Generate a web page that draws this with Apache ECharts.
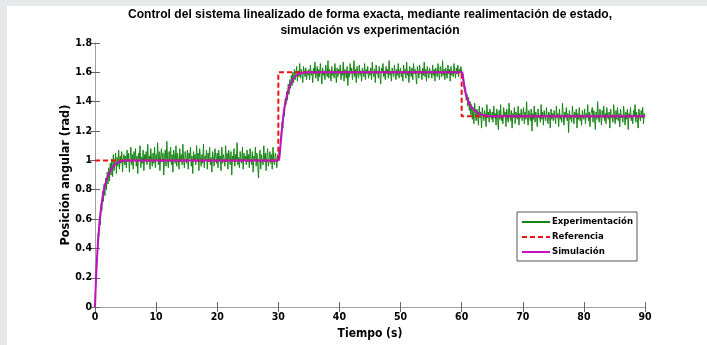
<!DOCTYPE html>
<html><head><meta charset="utf-8">
<script src="https://cdn.jsdelivr.net/npm/echarts@6/dist/echarts.min.js"></script>
<style>html,body{margin:0;padding:0;background:#fff}#c{width:707px;height:345px}</style>
</head><body><div id="c"></div>
<script>
var titleLines = ['Control del sistema linealizado de forma exacta, mediante realimentación de estado,', 'simulación vs experimentación'];
var xName = 'Tiempo (s)';
var yName = 'Posición angular (rad)';
var seriesNames = ['Experimentación', 'Referencia', 'Simulación'];
var xTicks = [0, 10, 20, 30, 40, 50, 60, 70, 80, 90];
var yTicks = [0, 0.2, 0.4, 0.6, 0.8, 1, 1.2, 1.4, 1.6, 1.8];

// Reference (step) signal
var refT = [0, 30, 30, 60, 60, 90];
var refV = [1, 1, 1.6, 1.6, 1.3, 1.3];

// Simulation response
var simT = [0, 0.1, 0.2, 0.3, 0.5, 0.75, 1, 1.25, 1.5, 2, 2.5, 3, 3.5, 4, 5, 6, 8, 30,
  30.25, 30.5, 30.75, 31, 31.5, 32, 32.5, 33, 33.5, 34, 35, 60,
  60.25, 60.5, 60.75, 61, 61.5, 62, 62.5, 63, 64, 65, 90];
var simV = [0, 0.12, 0.22, 0.31, 0.45, 0.58, 0.68, 0.75, 0.81, 0.88, 0.93, 0.96, 0.98, 0.99, 1.0, 1.0, 1.0, 1.0,
  1.06, 1.17, 1.28, 1.36, 1.46, 1.52, 1.56, 1.58, 1.59, 1.597, 1.6, 1.6,
  1.56, 1.49, 1.44, 1.41, 1.37, 1.345, 1.33, 1.315, 1.305, 1.3, 1.3];

// Experimental measurement, sampled every 0.125 s from t = 0 to 90 (40 samples per 5 s block)
var expStep = 0.125;
var expV = [
  // 0 - 5 s
  0.00,0.18,0.30,0.33,0.50,0.48,0.62,0.56,0.70,0.66,
  0.79,0.72,0.84,0.76,0.88,0.80,0.92,0.84,0.95,0.86,
  0.98,0.90,1.01,0.89,1.04,0.93,0.99,1.05,0.91,1.02,
  0.96,1.07,0.94,1.03,0.98,1.06,0.92,1.01,1.04,0.97,
  // 5 - 10 s
  1.03,0.95,1.07,0.99,1.05,0.92,1.02,1.09,0.97,1.04,
  0.94,1.06,1.00,1.08,0.96,1.03,0.91,1.05,1.01,1.10,
  0.95,1.02,0.98,1.07,0.93,1.04,1.00,1.06,0.97,1.11,
  0.99,1.03,0.94,1.08,1.01,0.96,1.05,0.98,1.09,0.95,
  // 10 - 15 s
  1.04,1.00,1.12,0.97,1.06,0.93,1.03,1.08,0.99,1.05,
  0.90,1.02,1.07,0.96,1.13,1.01,0.95,1.06,1.00,1.09,
  0.97,1.04,0.92,1.07,1.02,0.98,1.10,0.96,1.05,1.01,
  0.94,1.08,0.99,1.04,0.97,1.11,1.00,0.95,1.06,1.02,
  // 15 - 20 s
  0.98,1.07,0.94,1.05,1.01,1.09,0.96,1.03,0.91,1.06,
  1.00,1.04,0.97,1.10,0.99,1.05,0.93,1.08,1.02,0.96,
  1.04,0.98,1.11,0.95,1.03,1.00,1.07,0.94,1.05,0.99,
  1.09,0.97,1.02,0.92,1.06,1.01,0.96,1.08,1.03,0.98,
  // 20 - 25 s
  1.05,0.95,1.07,1.00,1.03,0.93,1.09,0.98,1.04,1.01,
  0.96,1.10,0.99,1.05,0.94,1.07,1.02,0.97,1.06,0.90,
  1.03,1.00,1.08,0.96,1.04,0.99,1.12,0.97,1.02,0.95,
  1.06,1.01,0.98,1.09,0.94,1.05,1.00,1.03,0.97,1.07,
  // 25 - 30 s
  0.99,1.04,0.95,1.08,1.01,0.97,1.06,0.92,1.03,1.00,
  1.09,0.96,1.05,0.98,0.88,1.02,1.07,0.94,1.04,1.00,
  0.97,1.10,0.99,1.05,0.93,1.03,1.08,0.96,1.01,1.06,
  0.98,1.04,0.94,1.09,1.00,0.97,1.05,1.02,0.95,1.03,
  // 30 - 35 s
  1.02,1.06,1.04,1.14,1.15,1.26,1.22,1.35,1.30,1.42,
  1.38,1.47,1.41,1.52,1.45,1.55,1.49,1.58,1.51,1.60,
  1.53,1.62,1.55,1.59,1.64,1.54,1.61,1.57,1.66,1.56,
  1.62,1.59,1.53,1.64,1.60,1.57,1.63,1.55,1.61,1.58,
  // 35 - 40 s
  1.62,1.55,1.65,1.58,1.61,1.53,1.63,1.59,1.67,1.56,
  1.60,1.64,1.54,1.62,1.57,1.66,1.59,1.52,1.63,1.58,
  1.61,1.55,1.65,1.60,1.57,1.68,1.56,1.62,1.59,1.54,
  1.64,1.58,1.61,1.56,1.66,1.60,1.53,1.63,1.57,1.62,
  // 40 - 45 s
  1.59,1.65,1.55,1.61,1.58,1.67,1.54,1.62,1.60,1.56,
  1.64,1.51,1.61,1.57,1.66,1.59,1.63,1.55,1.60,1.68,
  1.57,1.62,1.53,1.64,1.59,1.56,1.65,1.58,1.61,1.54,
  1.63,1.60,1.57,1.66,1.55,1.62,1.59,1.64,1.56,1.61,
  // 45 - 50 s
  1.58,1.63,1.55,1.67,1.60,1.57,1.62,1.53,1.65,1.59,
  1.61,1.56,1.64,1.58,1.52,1.63,1.60,1.66,1.57,1.61,
  1.55,1.64,1.59,1.62,1.56,1.68,1.58,1.61,1.54,1.63,
  1.60,1.57,1.65,1.59,1.55,1.62,1.58,1.66,1.56,1.61,
  // 50 - 55 s
  1.63,1.57,1.60,1.54,1.65,1.59,1.62,1.56,1.67,1.58,
  1.61,1.53,1.64,1.60,1.57,1.63,1.55,1.66,1.59,1.62,
  1.58,1.52,1.64,1.60,1.56,1.65,1.59,1.61,1.55,1.63,
  1.58,1.67,1.57,1.62,1.54,1.64,1.60,1.56,1.63,1.59,
  // 55 - 60 s
  1.61,1.56,1.65,1.58,1.62,1.54,1.63,1.60,1.57,1.66,
  1.59,1.55,1.64,1.61,1.57,1.68,1.58,1.62,1.55,1.63,
  1.60,1.56,1.65,1.59,1.62,1.54,1.64,1.58,1.61,1.57,
  1.66,1.60,1.56,1.63,1.59,1.65,1.57,1.62,1.60,1.64,
  // 60 - 65 s
  1.60,1.57,1.54,1.55,1.47,1.50,1.41,1.45,1.37,1.43,
  1.34,1.40,1.31,1.38,1.28,1.36,1.25,1.39,1.32,1.27,
  1.35,1.30,1.24,1.37,1.29,1.33,1.22,1.36,1.30,1.27,
  1.34,1.31,1.23,1.38,1.29,1.33,1.26,1.35,1.31,1.28,
  // 65 - 70 s
  1.33,1.26,1.37,1.29,1.32,1.24,1.35,1.30,1.21,1.34,
  1.28,1.38,1.27,1.31,1.25,1.36,1.30,1.33,1.23,1.35,
  1.29,1.26,1.39,1.31,1.27,1.34,1.22,1.32,1.29,1.36,
  1.25,1.33,1.30,1.28,1.37,1.24,1.32,1.29,1.35,1.27,
  // 70 - 75 s
  1.31,1.36,1.25,1.33,1.28,1.40,1.29,1.24,1.34,1.30,
  1.27,1.35,1.20,1.32,1.28,1.37,1.26,1.33,1.30,1.23,
  1.35,1.29,1.31,1.26,1.38,1.28,1.33,1.24,1.34,1.30,
  1.27,1.36,1.29,1.25,1.33,1.31,1.22,1.35,1.28,1.32,
  // 75 - 80 s
  1.27,1.34,1.30,1.25,1.37,1.29,1.32,1.23,1.35,1.28,
  1.31,1.26,1.39,1.30,1.24,1.33,1.29,1.36,1.27,1.32,
  1.19,1.34,1.28,1.31,1.26,1.37,1.30,1.25,1.33,1.29,
  1.35,1.22,1.32,1.28,1.36,1.27,1.31,1.24,1.34,1.30,
  // 80 - 85 s
  1.28,1.35,1.25,1.32,1.29,1.38,1.27,1.33,1.23,1.31,
  1.30,1.36,1.26,1.34,1.29,1.21,1.33,1.28,1.40,1.30,
  1.26,1.35,1.31,1.24,1.34,1.29,1.37,1.27,1.32,1.25,
  1.36,1.30,1.28,1.33,1.22,1.35,1.29,1.31,1.26,1.38,
  // 85 - 90 s
  1.30,1.25,1.34,1.28,1.36,1.27,1.32,1.23,1.35,1.29,
  1.31,1.26,1.37,1.30,1.24,1.33,1.28,1.35,1.21,1.32,
  1.29,1.36,1.27,1.31,1.25,1.34,1.30,1.38,1.26,1.33,
  1.28,1.22,1.35,1.30,1.27,1.34,1.29,1.36,1.25,1.32,
  // 90 s
  1.30
];

function pairs(xs, ys) { return xs.map(function (x, i) { return [x, ys[i]]; }); }
var expData = expV.map(function (v, i) { return [i * expStep, v]; });

var FONT = '"DejaVu Sans Condensed", "Liberation Sans", Arial, sans-serif';
var TFONT = '"Liberation Sans", Arial, sans-serif';
var AX = '#a0a0a0';

// horizontal compression so the title spans like a narrow face
var mc = document.createElement('canvas').getContext('2d');
mc.font = 'bold 13px ' + TFONT;
var tScale = Math.min(1, 484 / mc.measureText(titleLines[0]).width);

function axisCommon(extra) {
  var base = {
    type: 'value',
    axisLine: { show: true, lineStyle: { color: AX, width: 1 } },
    axisTick: { show: true, inside: true, length: 5, lineStyle: { color: '#666', width: 1 } },
    splitLine: { show: false },
    axisLabel: { show: false }
  };
  for (var k in extra) base[k] = extra[k];
  return base;
}

var chart = echarts.init(document.getElementById('c'), null, { renderer: 'canvas' });
chart.setOption({
  animation: false,
  backgroundColor: '#ffffff',
  grid: { left: 95, right: 62, top: 43, bottom: 37, containLabel: false },
  graphic: [
    { type: 'rect', left: 0, top: 0, shape: { width: 7, height: 345 }, style: { fill: '#e6e7e9' }, z: -10 },
    { type: 'rect', left: 0, top: 0, shape: { width: 707, height: 6 }, style: { fill: '#e6e7e9' }, z: -10 },
    { type: 'text', x: 370, y: 8, scaleX: tScale, style: { text: titleLines[0], textAlign: 'center', font: 'bold 13px ' + TFONT, fill: '#000' } },
    { type: 'text', x: 370, y: 24, scaleX: tScale, style: { text: titleLines[1], textAlign: 'center', font: 'bold 13px ' + TFONT, fill: '#000' } }
  ],
  legend: {
    orient: 'vertical',
    left: 517, top: 212,
    data: seriesNames,
    backgroundColor: '#fff',
    borderColor: '#555', borderWidth: 1, borderRadius: 0,
    padding: [5, 4, 4, 4],
    itemGap: 5,
    itemWidth: 28, itemHeight: 11,
    textStyle: { fontFamily: FONT, fontWeight: 'bold', fontSize: 9.5, color: '#000', padding: [0, 0, 0, -3] }
  },
  xAxis: [
    axisCommon({
      position: 'bottom', min: 0, max: 90, interval: 10,
      name: xName, nameLocation: 'middle', nameGap: 17,
      nameTextStyle: { fontFamily: FONT, fontWeight: 'bold', fontSize: 12, color: '#000' },
      axisLabel: { show: true, margin: 5, fontFamily: FONT, fontWeight: 'bold', fontSize: 10.5, color: '#000' }
    }),
    axisCommon({ position: 'top', min: 0, max: 90, interval: 10 })
  ],
  yAxis: [
    axisCommon({
      position: 'left', min: 0, max: 1.8, interval: 0.2,
      name: yName, nameLocation: 'middle', nameGap: 23, nameRotate: 90, nameMoveOverlap: false,
      nameTextStyle: { fontFamily: FONT, fontWeight: 'bold', fontSize: 12.5, color: '#000' },
      axisLabel: { show: true, margin: 3, fontFamily: FONT, fontWeight: 'bold', fontSize: 10.5, color: '#000',
        formatter: function (v) { return String(+v.toFixed(1)); } }
    }),
    axisCommon({ position: 'right', min: 0, max: 1.8, interval: 0.2 })
  ],
  series: [
    { name: seriesNames[0], type: 'line', data: expData, symbol: 'none', showSymbol: false,
      lineStyle: { color: '#168516', width: 1 }, itemStyle: { color: 'rgba(0,0,0,0)', borderWidth: 0 }, z: 2 },
    { name: seriesNames[1], type: 'line', data: pairs(refT, refV), symbol: 'none', showSymbol: false,
      lineStyle: { color: '#ee1111', width: 2, type: [5, 3] }, itemStyle: { color: 'rgba(0,0,0,0)', borderWidth: 0 }, z: 3 },
    { name: seriesNames[2], type: 'line', data: pairs(simT, simV), symbol: 'none', showSymbol: false, smooth: 0.3,
      lineStyle: { color: '#c010c0', width: 2 }, itemStyle: { color: 'rgba(0,0,0,0)', borderWidth: 0 }, z: 4 }
  ]
});
</script>
</body></html>
